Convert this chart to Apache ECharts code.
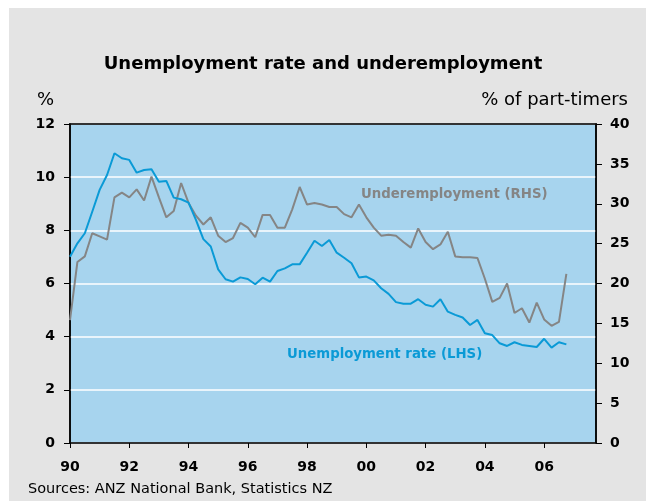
<!DOCTYPE html>
<html>
<head>
<meta charset="utf-8">
<script src="https://cdn.jsdelivr.net/npm/echarts@6/dist/echarts.min.js"></script>
<style>
  html, body { margin: 0; padding: 0; background: #fff; }
  #main { width: 646px; height: 501px; }
</style>
</head>
<body>
<div id="main"></div>
<script>
// quarterly, starting 1990 Q1
const startYear = 1990;
const unemployment = [
  7.01, 7.51, 7.89, 8.70, 9.52, 10.08, 10.90, 10.71, 10.65, 10.17,
  10.27, 10.30, 9.83, 9.86, 9.23, 9.17, 9.04, 8.39, 7.67, 7.39,
  6.53, 6.16, 6.07, 6.23, 6.17, 5.97, 6.22, 6.07, 6.47, 6.57,
  6.72, 6.72, 7.16, 7.61, 7.41, 7.64, 7.16, 6.97, 6.76, 6.23,
  6.26, 6.12, 5.82, 5.61, 5.30, 5.24, 5.24, 5.41, 5.20, 5.13,
  5.41, 4.94, 4.82, 4.72, 4.44, 4.63, 4.13, 4.06, 3.75, 3.65,
  3.79, 3.69, 3.65, 3.61, 3.92, 3.59, 3.79, 3.71
];
const underemployment = [
  15.4, 22.7, 23.4, 26.3, 25.9, 25.5, 30.8, 31.4, 30.8, 31.8,
  30.4, 33.4, 30.8, 28.3, 29.1, 32.6, 30.1, 28.5, 27.4, 28.3,
  26.0, 25.2, 25.7, 27.6, 27.0, 25.8, 28.6, 28.6, 27.0, 27.0,
  29.3, 32.1, 29.9, 30.1, 29.9, 29.6, 29.6, 28.7, 28.3, 29.9,
  28.3, 27.0, 26.0, 26.1, 26.0, 25.2, 24.5, 26.9, 25.2, 24.3,
  24.9, 26.5, 23.4, 23.3, 23.3, 23.2, 20.6, 17.7, 18.2, 20.0,
  16.3, 16.9, 15.1, 17.6, 15.5, 14.7, 15.2, 21.2
];
const yearTicks = [1990, 1992, 1994, 1996, 1998, 2000, 2002, 2004, 2006];

const toPairs = arr => arr.map((v, i) => [startYear + i * 0.25, v]);

const chart = echarts.init(document.getElementById('main'));
const font = 'DejaVu Sans';

const option = {
  backgroundColor: '#e4e4e4',
  animation: false,
  textStyle: { fontFamily: font },
  graphic: [
    { type: 'rect', shape: { x: 0, y: 0, width: 646, height: 8 }, style: { fill: '#fff' } },
    { type: 'rect', shape: { x: 0, y: 0, width: 9, height: 501 }, style: { fill: '#fff' } },
    { type: 'text', left: 'center', top: 55, style: { text: 'Unemployment rate and underemployment', font: 'bold 18px ' + font, fill: '#000' } },
    { type: 'text', left: 37, top: 91, style: { text: '%', font: '18px ' + font, fill: '#000' } },
    { type: 'text', right: 18, top: 91, style: { text: '% of part-timers', font: '18px ' + font, fill: '#000' } },
    { type: 'text', left: 361, top: 188, z: 10, style: { text: 'Underemployment (RHS)', font: 'bold 13.3px ' + font, fill: '#858585' } },
    { type: 'text', left: 287, top: 348, z: 10, style: { text: 'Unemployment rate (LHS)', font: 'bold 13.3px ' + font, fill: '#0a9ad6' } },
    { type: 'text', left: 28, top: 482, style: { text: 'Sources: ANZ National Bank, Statistics NZ', font: '14.5px ' + font, fill: '#000' } }
  ],
  grid: {
    left: 70, top: 124, width: 526, height: 319,
    show: true, backgroundColor: '#a7d4ee', borderColor: '#000', borderWidth: 1.5
  },
  xAxis: [
    {
      type: 'value', min: 1990, max: 2007.75,
      splitLine: { show: false },
      axisLine: { onZero: false, lineStyle: { color: '#000', width: 1.5 } },
      axisTick: { customValues: yearTicks, length: 5, lineStyle: { color: '#000' } },
      axisLabel: {
        customValues: yearTicks, margin: 17,
        formatter: v => String(v).slice(2),
        color: '#000', fontWeight: 'bold', fontSize: 14, fontFamily: font
      }
    },
    {
      // top frame line
      type: 'value', min: 1990, max: 2007.75, position: 'top',
      splitLine: { show: false },
      axisLine: { show: true, onZero: false, lineStyle: { color: '#000', width: 1.5 } },
      axisTick: { show: false },
      axisLabel: { show: false }
    }
  ],
  yAxis: [
    {
      type: 'value', min: 0, max: 12, interval: 2,
      axisLine: { show: true, lineStyle: { color: '#000', width: 1.5 } },
      axisTick: { show: true, length: 6, lineStyle: { color: '#000' } },
      axisLabel: { margin: 15, color: '#000', fontWeight: 'bold', fontSize: 14, fontFamily: font },
      splitLine: { show: true, lineStyle: { color: '#fff', width: 1.5 } }
    },
    {
      type: 'value', min: 0, max: 40, interval: 5, position: 'right',
      axisLine: { show: true, lineStyle: { color: '#000', width: 1.5 } },
      axisTick: { show: true, length: 6, lineStyle: { color: '#000' } },
      axisLabel: { margin: 14, color: '#000', fontWeight: 'bold', fontSize: 14, fontFamily: font },
      splitLine: { show: false }
    }
  ],
  series: [
    {
      name: 'Underemployment (RHS)', type: 'line', yAxisIndex: 1,
      data: toPairs(underemployment), showSymbol: false,
      lineStyle: { color: '#858585', width: 2 }
    },
    {
      name: 'Unemployment rate (LHS)', type: 'line', yAxisIndex: 0,
      data: toPairs(unemployment), showSymbol: false,
      lineStyle: { color: '#0a9ad6', width: 2 }
    }
  ]
};

chart.setOption(option);
</script>
</body>
</html>
